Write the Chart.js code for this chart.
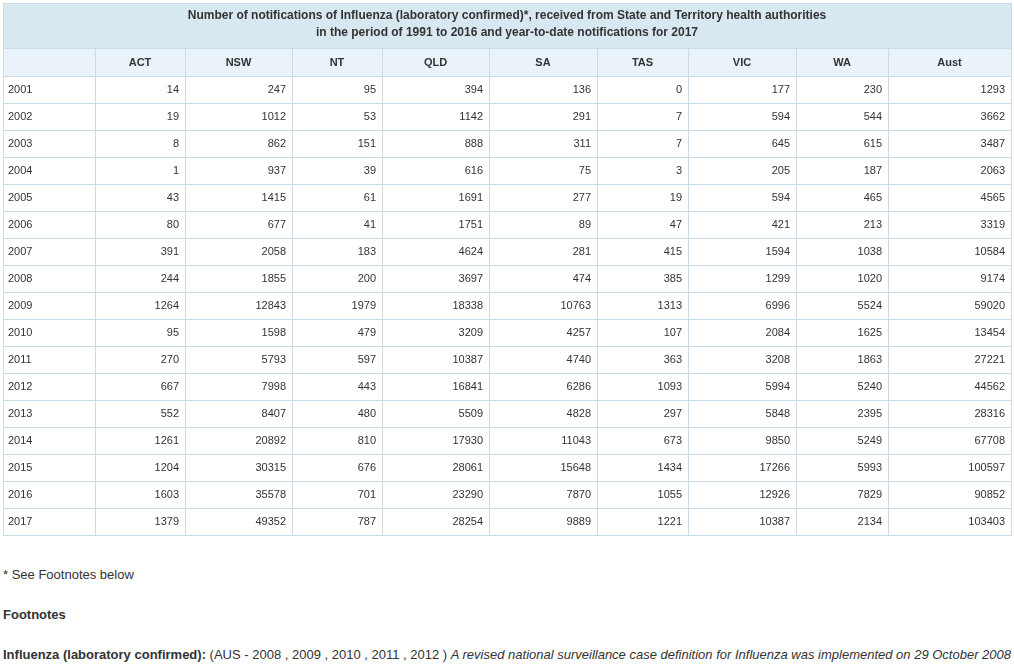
<!DOCTYPE html>
<html>
<head>
<meta charset="utf-8">
<script src="https://cdn.jsdelivr.net/npm/chart.js@4.4.0/dist/chart.umd.min.js"></script>
<style>
  body { margin: 0; background: #fff; font-family: "Liberation Sans", Arial, sans-serif; color: #333; }
  #wrap { position: absolute; left: 0; top: 0; width: 1014px; height: 540px; }
  .note { position: absolute; left: 3px; font-size: 13px; white-space: nowrap; }
</style>
</head>
<body>
<div id="wrap"><canvas id="myChart"></canvas></div>
<div class="note" style="top:567px">* See Footnotes below</div>
<div class="note" style="top:607px;font-weight:bold">Footnotes</div>
<div class="note" style="top:647px"><b>Influenza (laboratory confirmed):</b> (AUS - 2008 , 2009 , 2010 , 2011 , 2012 ) <i>A revised national surveillance case definition for Influenza was implemented on 29 October 2008</i></div>
<script>
var titleLines = [
  'Number of notifications of Influenza (laboratory confirmed)*, received from State and Territory health authorities',
  'in the period of 1991 to 2016 and year-to-date notifications for 2017'
];
var columns = ['', 'ACT', 'NSW', 'NT', 'QLD', 'SA', 'TAS', 'VIC', 'WA', 'Aust'];
var years = ['2001', '2002', '2003', '2004', '2005', '2006', '2007', '2008', '2009',
  '2010', '2011', '2012', '2013', '2014', '2015', '2016', '2017'];

var act  = [14, 19, 8, 1, 43, 80, 391, 244, 1264, 95, 270, 667, 552, 1261, 1204, 1603, 1379];
var nsw  = [247, 1012, 862, 937, 1415, 677, 2058, 1855, 12843, 1598, 5793, 7998, 8407, 20892, 30315, 35578, 49352];
var nt   = [95, 53, 151, 39, 61, 41, 183, 200, 1979, 479, 597, 443, 480, 810, 676, 701, 787];
var qld  = [394, 1142, 888, 616, 1691, 1751, 4624, 3697, 18338, 3209, 10387, 16841, 5509, 17930, 28061, 23290, 28254];
var sa   = [136, 291, 311, 75, 277, 89, 281, 474, 10763, 4257, 4740, 6286, 4828, 11043, 15648, 7870, 9889];
var tas  = [0, 7, 7, 3, 19, 47, 415, 385, 1313, 107, 363, 1093, 297, 673, 1434, 1055, 1221];
var vic  = [177, 594, 645, 205, 594, 421, 1594, 1299, 6996, 2084, 3208, 5994, 5848, 9850, 17266, 12926, 10387];
var wa   = [230, 544, 615, 187, 465, 213, 1038, 1020, 5524, 1625, 1863, 5240, 2395, 5249, 5993, 7829, 2134];
var aust = [1293, 3662, 3487, 2063, 4565, 3319, 10584, 9174, 59020, 13454, 27221, 44562, 28316, 67708, 100597, 90852, 103403];

var series = [act, nsw, nt, qld, sa, tas, vic, wa, aust];

// layout (column widths in x-scale units)
var colWidths = [92, 90, 107, 90, 107, 108, 91, 108, 92, 123];
var colEdges = [0];
colWidths.forEach(function (w, i) { colEdges.push(colEdges[i] + w); });

var border = '#c9dce8';
var titleBg = '#d7e8f1';
var headBg = '#e9f3f9';
var textCol = '#333';

// draws the table cells using the chart's x / y scales
var tablePlugin = {
  id: 'table',
  afterDraw: function (chart) {
    var c = chart.ctx;
    var xs = chart.scales.x, ys = chart.scales.y;
    var area = chart.chartArea;
    var band = ys.getPixelForValue(1) - ys.getPixelForValue(0);
    var headTop = area.top - 28;
    var titleTop = area.top - 73;
    var left = xs.getPixelForValue(0);
    var right = xs.getPixelForValue(colEdges[colEdges.length - 1]);
    var bottom = ys.getPixelForValue(years.length - 1) + band / 2;

    c.save();
    c.fillStyle = titleBg;
    c.fillRect(left, titleTop, right - left, headTop - titleTop);
    c.fillStyle = headBg;
    c.fillRect(left, headTop, right - left, area.top - headTop);

    c.strokeStyle = border;
    c.lineWidth = 1;
    c.beginPath();
    // horizontal lines
    [titleTop, headTop].forEach(function (y) {
      c.moveTo(left, Math.round(y) + 0.5); c.lineTo(right, Math.round(y) + 0.5);
    });
    for (var r = 0; r <= years.length; r++) {
      var y = Math.round(ys.getPixelForValue(r) - band / 2) + 0.5;
      c.moveTo(left, y); c.lineTo(right, y);
    }
    // vertical lines
    colEdges.forEach(function (e, i) {
      var x = Math.round(xs.getPixelForValue(e)) + 0.5;
      var top = (i === 0 || i === colEdges.length - 1) ? titleTop : headTop;
      c.moveTo(x, Math.round(top)); c.lineTo(x, Math.round(bottom) + 1);
    });
    c.stroke();

    c.fillStyle = textCol;
    c.textBaseline = 'middle';
    // title
    c.font = 'bold 12px "Liberation Sans", Arial, sans-serif';
    c.textAlign = 'center';
    titleLines.forEach(function (t, i) {
      c.fillText(t, (left + right) / 2, titleTop + 13 + i * 17);
    });
    // column headers
    c.font = 'bold 11px "Liberation Sans", Arial, sans-serif';
    columns.forEach(function (h, i) {
      var cx = xs.getPixelForValue((colEdges[i] + colEdges[i + 1]) / 2);
      c.fillText(h, cx, headTop + 14.5);
    });
    // body
    c.font = '11px "Liberation Sans", Arial, sans-serif';
    years.forEach(function (yr, r) {
      var cy = ys.getPixelForValue(r) + 0.5;
      c.textAlign = 'left';
      c.fillText(yr, xs.getPixelForValue(colEdges[0]) + 5, cy);
      c.textAlign = 'right';
      series.forEach(function (s, k) {
        c.fillText(String(s[r]), xs.getPixelForValue(colEdges[k + 2]) - 6, cy);
      });
    });
    c.restore();
  }
};

var ctx = document.getElementById('myChart').getContext('2d');
var myChart = new Chart(ctx, {
  type: 'bar',
  data: { labels: years, datasets: [] },
  options: {
    indexAxis: 'y',
    responsive: true,
    maintainAspectRatio: false,
    animation: false,
    layout: { padding: { left: 3, right: 3, top: 76, bottom: 5 } },
    plugins: { legend: { display: false }, tooltip: { enabled: false } },
    scales: {
      x: { type: 'linear', min: 0, max: colEdges[colEdges.length - 1], offset: false, display: false },
      y: { type: 'category', labels: years, offset: true, display: false }
    }
  },
  plugins: [tablePlugin]
});
</script>
</body>
</html>
